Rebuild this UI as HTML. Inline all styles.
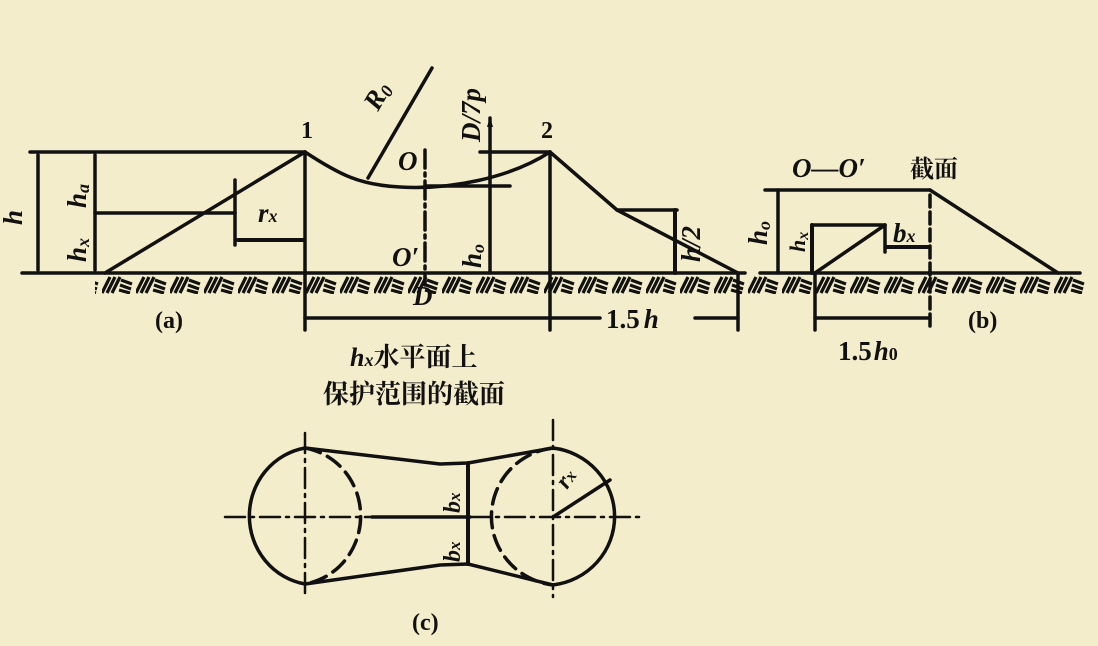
<!DOCTYPE html>
<html><head><meta charset="utf-8"><style>
html,body{margin:0;padding:0;background:#f3edcc;}
svg{display:block}
text{font-family:"Liberation Serif","Noto Serif CJK SC",serif;fill:#111;}
.i{font-style:italic;}
</style></head><body>
<svg width="1098" height="646" viewBox="0 0 1098 646" xmlns="http://www.w3.org/2000/svg">
<defs>
<pattern id="hat" x="0" y="276" width="34" height="18" patternUnits="userSpaceOnUse">
<g stroke="#111" stroke-width="3.2">
<line x1="0" y1="17" x2="8" y2="1"/><line x1="5" y1="17" x2="13" y2="1"/><line x1="10" y1="17" x2="18" y2="1"/>
<line x1="19" y1="4" x2="30" y2="8"/><line x1="18" y1="9" x2="29" y2="13"/><line x1="17" y1="14" x2="28" y2="17"/>
</g>
</pattern>
<marker id="ar" markerWidth="10" markerHeight="8" refX="9" refY="4" orient="auto" markerUnits="userSpaceOnUse"><path d="M0,1 L10,4 L0,7z" fill="#111"/></marker>
</defs>
<rect width="1098" height="646" fill="#f3edcc"/>
<g stroke="#111" stroke-width="3.5" fill="none" stroke-linecap="round">
<!-- ground -->
<line x1="22" y1="273" x2="745" y2="273"/>
<line x1="760" y1="273" x2="1080" y2="273"/>
<rect x="95" y="276" width="990" height="18" fill="url(#hat)" stroke="none"/>
<!-- (a) -->
<line x1="30" y1="152" x2="305" y2="152"/>
<line x1="38" y1="155" x2="38" y2="270"/>
<line x1="95" y1="155" x2="95" y2="270"/>
<line x1="95" y1="213" x2="235" y2="213"/>
<line x1="105" y1="273" x2="305" y2="152"/>
<line x1="235" y1="180" x2="235" y2="245"/>
<line x1="238" y1="240" x2="303" y2="240" stroke-width="4"/>
<line x1="305" y1="152" x2="305" y2="330"/>
<path d="M305,152 C340,175 360,185 400,187 C450,190 510,178 550,152"/>
<line x1="368" y1="178" x2="432" y2="68"/>
<line x1="425" y1="150" x2="425" y2="285" stroke-dasharray="18,5,3,5"/>
<line x1="425" y1="186" x2="510" y2="186"/>
<line x1="480" y1="152" x2="550" y2="152"/>
<line x1="490" y1="186" x2="490" y2="118" marker-end="url(#ar)"/>
<line x1="490" y1="186" x2="490" y2="273"/>
<line x1="550" y1="152" x2="550" y2="330"/>
<polyline points="550,152 617,210 738,273"/>
<line x1="617" y1="210" x2="677" y2="210"/>
<line x1="675" y1="210" x2="675" y2="273" stroke-width="4"/>
<line x1="738" y1="273" x2="738" y2="330"/>
<line x1="305" y1="318" x2="600" y2="318"/>
<line x1="695" y1="318" x2="738" y2="318"/>
<!-- (b) -->
<line x1="765" y1="190" x2="930" y2="190"/>
<polyline points="930,190 1058,273"/>
<line x1="778" y1="190" x2="778" y2="273"/>
<line x1="812" y1="225" x2="812" y2="273" stroke-width="4"/>
<line x1="812" y1="225" x2="885" y2="225"/>
<line x1="815" y1="273" x2="885" y2="225"/>
<line x1="885" y1="225" x2="885" y2="252"/>
<line x1="887" y1="247" x2="928" y2="247" stroke-width="4"/>
<line x1="930" y1="195" x2="930" y2="330" stroke-dasharray="12,5"/>
<line x1="815" y1="273" x2="815" y2="330"/>
<line x1="815" y1="318" x2="930" y2="318"/>
<!-- (c) -->
<line x1="225" y1="517" x2="642" y2="517" stroke-width="2.5" stroke-dasharray="20,6,3,6"/>
<line x1="305" y1="433" x2="305" y2="597" stroke-width="2.5" stroke-dasharray="20,6,3,6"/>
<line x1="553" y1="420" x2="553" y2="597" stroke-width="2.5" stroke-dasharray="20,6,3,6"/>
<path d="M305,448 A67,69 0 0 0 305,584"/>
<path d="M305,448 A67,69 0 0 1 305,584" stroke-dasharray="16,8"/>
<path d="M553,448 A70,69 0 0 1 553,585"/>
<path d="M553,448 A70,69 0 0 0 553,585" stroke-dasharray="16,8"/>
<polyline points="305,448 440,464 468,463 553,448"/>
<polyline points="305,584 440,565 468,564 553,585"/>
<line x1="468" y1="463" x2="468" y2="564" stroke-width="4"/>
<line x1="372" y1="517" x2="470" y2="517"/>
<line x1="553" y1="517" x2="610" y2="480"/>
</g>
<g font-size="27" font-weight="bold">
<text x="301" y="138" font-size="24">1</text>
<text x="541" y="138" font-size="24">2</text>
<text class="i" x="0" y="0" transform="translate(22,225) rotate(-90)">h</text>
<text class="i" x="0" y="0" transform="translate(86,208) rotate(-90)">h<tspan font-size="18" dy="3">a</tspan></text>
<text class="i" x="0" y="0" transform="translate(86,262) rotate(-90)">h<tspan font-size="18" dy="3">x</tspan></text>
<text class="i" x="258" y="222">r<tspan font-size="18">x</tspan></text>
<text class="i" x="0" y="0" transform="translate(378,112) rotate(-60)">R<tspan font-size="18" dy="3">0</tspan></text>
<text class="i" x="398" y="170">O</text>
<text class="i" x="392" y="266">O′</text>
<text class="i" x="413" y="305">D</text>
<text class="i" x="0" y="0" transform="translate(480,142) rotate(-90)">D/7p</text>
<text class="i" x="0" y="0" transform="translate(481,268) rotate(-90)">h<tspan font-size="18" dy="3">o</tspan></text>
<text class="i" x="0" y="0" transform="translate(700,262) rotate(-90)">h/2</text>
<text x="155" y="328" font-size="24">(a)</text>
<text x="606" y="328">1.5<tspan class="i" dx="4">h</tspan></text>
<text class="i" x="792" y="177">O—O′</text>
<text x="910" y="177" font-family="Liberation Sans,Noto Sans CJK SC,sans-serif" font-size="24">截面</text>
<text class="i" x="0" y="0" transform="translate(767,245) rotate(-90)">h<tspan font-size="18" dy="3">o</tspan></text>
<text class="i" x="0" y="0" transform="translate(805,252) rotate(-90)" font-size="22">h<tspan font-size="16" dy="3">x</tspan></text>
<text class="i" x="893" y="242">b<tspan font-size="18">x</tspan></text>
<text x="968" y="328" font-size="24">(b)</text>
<text x="838" y="360">1.5<tspan class="i" dx="2">h</tspan><tspan font-size="18">0</tspan></text>
<text x="350" y="366" font-family="Liberation Sans,Noto Sans CJK SC,sans-serif" font-size="26"><tspan font-family="Liberation Serif" font-style="italic">h</tspan><tspan font-size="18" font-style="italic" font-family="Liberation Serif">x</tspan>水平面上</text>
<text x="323" y="403" font-family="Liberation Sans,Noto Sans CJK SC,sans-serif" font-size="26">保护范围的截面</text>
<text class="i" x="0" y="0" transform="translate(460,513) rotate(-90)" font-size="24">b<tspan font-size="17">x</tspan></text>
<text class="i" x="0" y="0" transform="translate(460,562) rotate(-90)" font-size="24">b<tspan font-size="17">x</tspan></text>
<text class="i" x="0" y="0" transform="translate(567,490) rotate(-55)" font-size="24">r<tspan font-size="17">x</tspan></text>
<text x="412" y="630" font-size="24">(c)</text>
</g>
</svg>
</body></html>
